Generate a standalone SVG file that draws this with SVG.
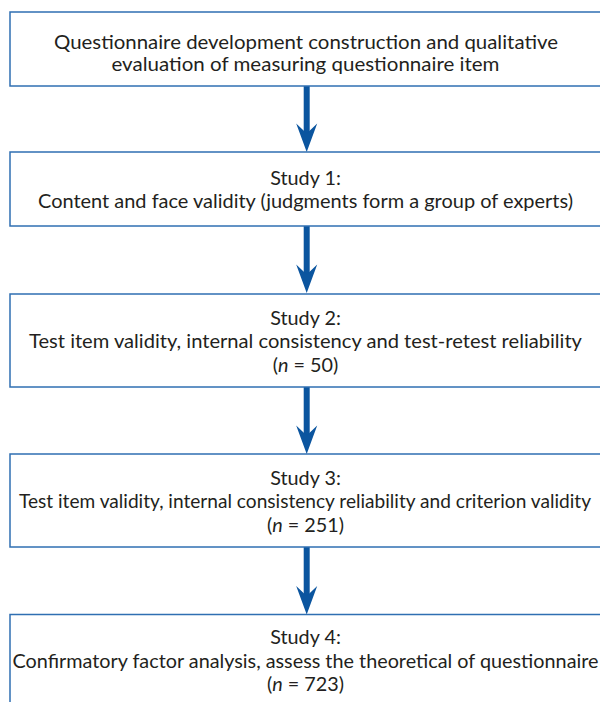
<svg xmlns="http://www.w3.org/2000/svg" width="600" height="702" viewBox="0 0 600 702">
  <defs>
    <style>
      .box { fill: #ffffff; stroke: #2f6fb2; stroke-width: 1.5; }
      .txt { font-family: "Lato", "Liberation Sans", sans-serif; font-size: 19.8px; fill: #231f20; text-anchor: middle; }
      .shaft { stroke: #0b559f; stroke-width: 6; fill: none; }
      .head { fill: #0b559f; }
    </style>
  </defs>
  <rect width="600" height="702" fill="#ffffff"/>

  <g id="connectors">
    <g id="arrow1"><line class="shaft" x1="306.7" y1="86" x2="306.7" y2="134"/><path class="head" d="M306.7,152 L296.2,123.5 L306.7,133.5 L317.2,123.5 Z"/></g>
    <g id="arrow2"><line class="shaft" x1="306.7" y1="226" x2="306.7" y2="275"/><path class="head" d="M306.7,293 L296.2,264.5 L306.7,274.5 L317.2,264.5 Z"/></g>
    <g id="arrow3"><line class="shaft" x1="306.7" y1="387" x2="306.7" y2="436"/><path class="head" d="M306.7,454 L296.2,425.5 L306.7,435.5 L317.2,425.5 Z"/></g>
    <g id="arrow4"><line class="shaft" x1="306.7" y1="547" x2="306.7" y2="596"/><path class="head" d="M306.7,614.5 L296.2,586 L306.7,596 L317.2,586 Z"/></g>
  </g>

  <g id="node1">
    <rect class="box" x="10" y="12" width="600" height="74"/>
    <text class="txt" x="306" y="48.5" textLength="504" lengthAdjust="spacingAndGlyphs">Questionnaire development construction and qualitative</text>
    <text class="txt" x="305.5" y="71" textLength="388" lengthAdjust="spacingAndGlyphs">evaluation of measuring questionnaire item</text>
  </g>

  <g id="node2">
    <rect class="box" x="10" y="152" width="600" height="74"/>
    <text class="txt" x="305.5" y="185">Study 1:</text>
    <text class="txt" x="305.5" y="208" textLength="535" lengthAdjust="spacingAndGlyphs">Content and face validity (judgments form a group of experts)</text>
  </g>

  <g id="node3">
    <rect class="box" x="10" y="294" width="600" height="93"/>
    <text class="txt" x="305.5" y="324.5">Study 2:</text>
    <text class="txt" x="305.5" y="348" textLength="553" lengthAdjust="spacingAndGlyphs">Test item validity, internal consistency and test-retest reliability</text>
    <text class="txt" x="305.5" y="371.5">(<tspan font-style="italic">n</tspan> = 50)</text>
  </g>

  <g id="node4">
    <rect class="box" x="10" y="454" width="600" height="93"/>
    <text class="txt" x="305.5" y="484.5">Study 3:</text>
    <text class="txt" x="305" y="508" style="font-size:19.25px" textLength="572" lengthAdjust="spacingAndGlyphs">Test item validity, internal consistency reliability and criterion validity</text>
    <text class="txt" x="305.5" y="531.5">(<tspan font-style="italic">n</tspan> = 251)</text>
  </g>

  <g id="node5">
    <rect class="box" x="10" y="614.5" width="600" height="100"/>
    <text class="txt" x="305.5" y="644">Study 4:</text>
    <text class="txt" x="305.5" y="667.5" textLength="586" lengthAdjust="spacingAndGlyphs">Confirmatory factor analysis, assess the theoretical of questionnaire</text>
    <text class="txt" x="305.5" y="691">(<tspan font-style="italic">n</tspan> = 723)</text>
  </g>
</svg>
